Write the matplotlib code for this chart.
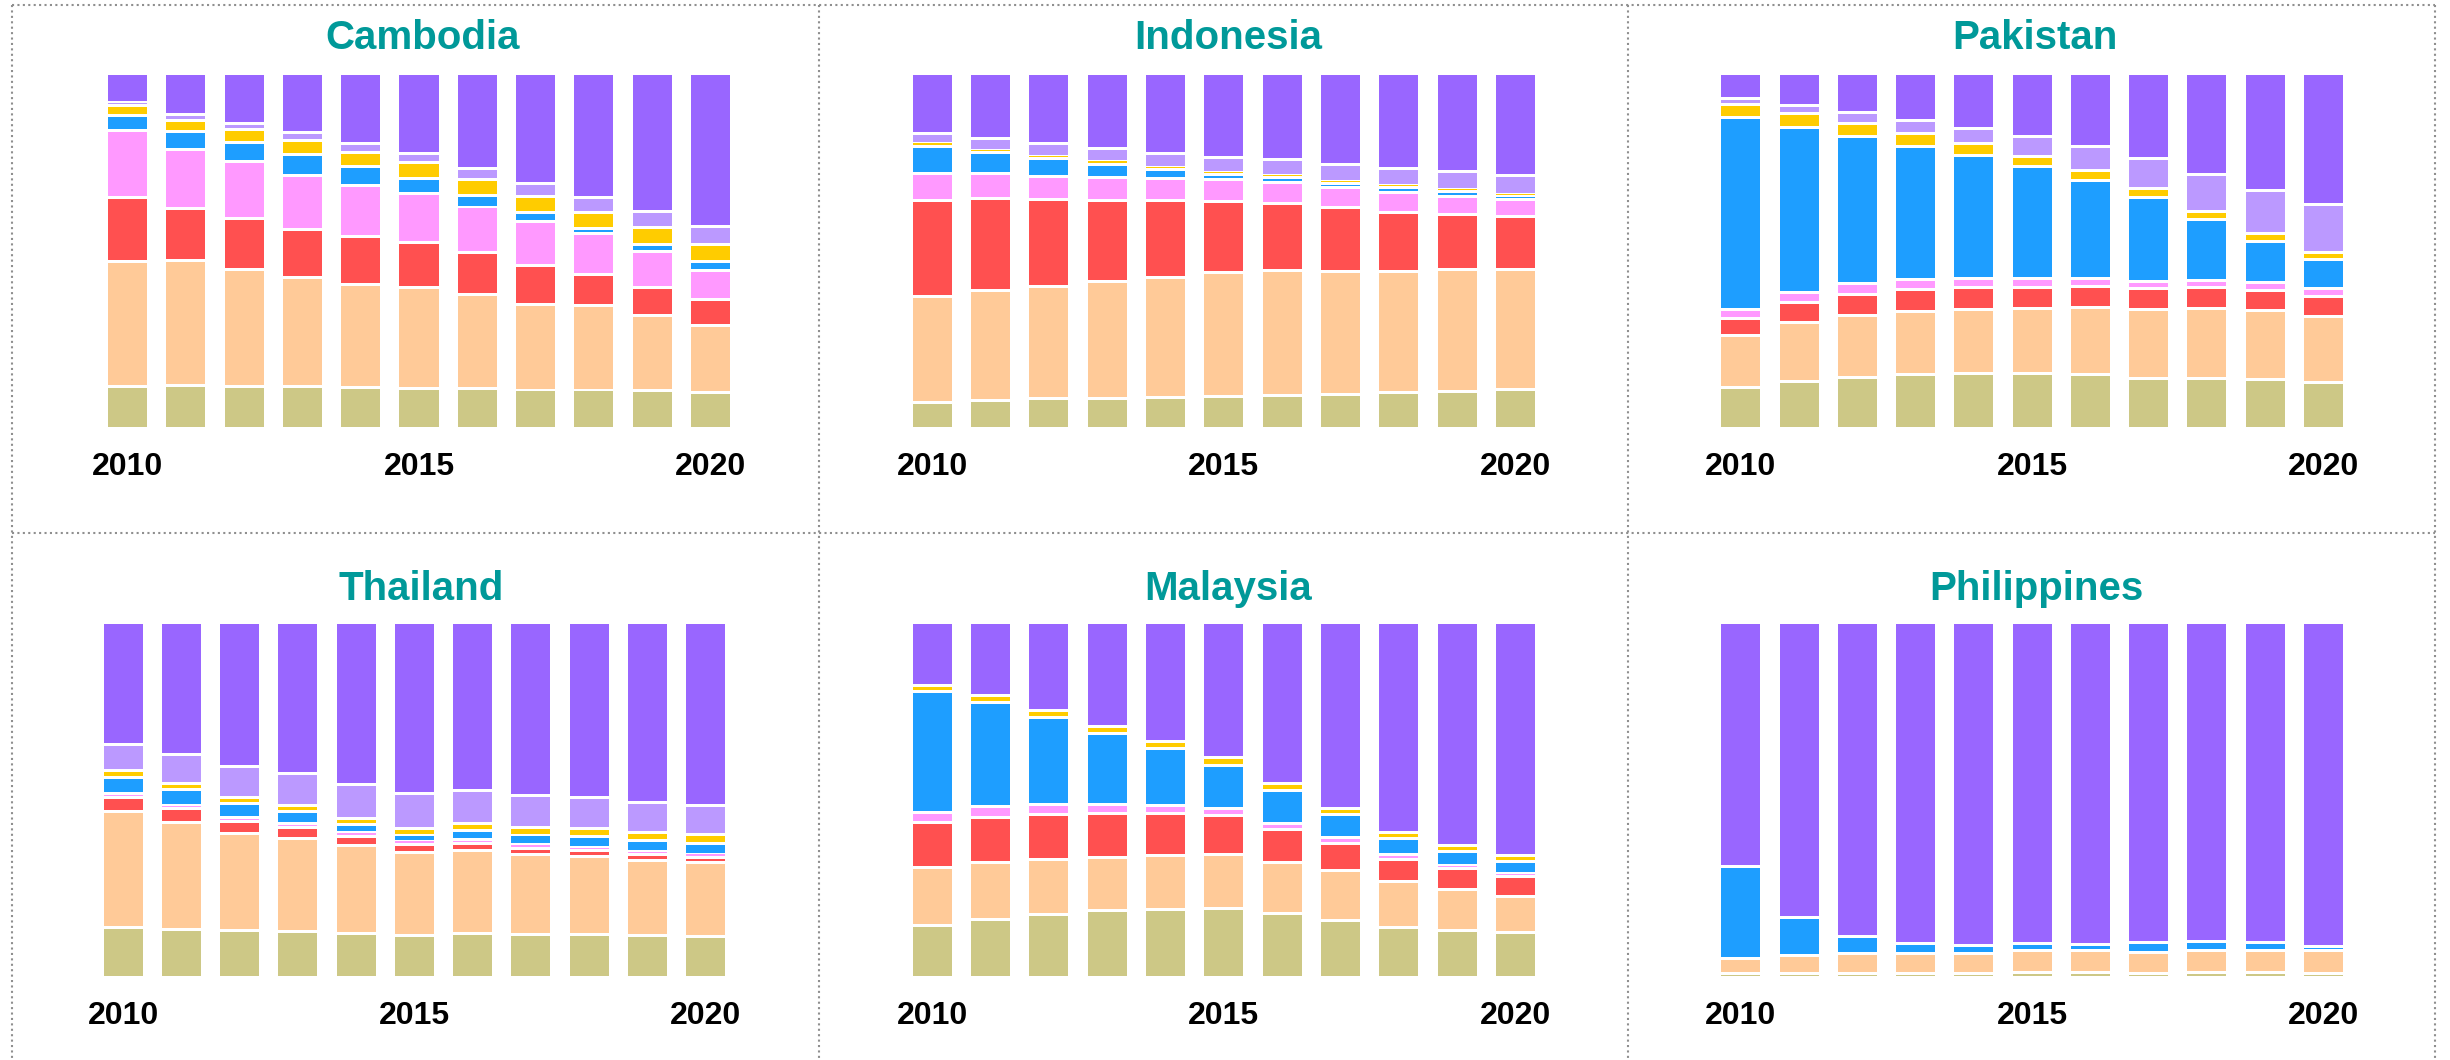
import numpy as np
import matplotlib
matplotlib.use("Agg")
import matplotlib.pyplot as plt
from matplotlib.lines import Line2D

plt.rcParams["font.family"] = ["Liberation Sans", "DejaVu Sans"]

years = list(range(2010, 2021))
tick_years = [2010, 2015, 2020]

# stacked from bottom to top, shares in %
layers = ["olive", "peach", "red", "pink", "blue", "yellow", "lavender", "purple"]
colors = ["#cdc886", "#ffca98", "#ff5050", "#ff99ff", "#1e9eff", "#ffcc00", "#bb99ff", "#9966ff"]

cambodia = [
    [11.5, 11.9, 11.6, 11.4, 11.1, 11.0, 10.8, 10.5, 10.5, 10.3, 9.7],
    [35.5, 35.5, 33.2, 30.9, 29.5, 28.5, 26.8, 24.4, 24.1, 21.5, 19.1],
    [18.3, 14.7, 14.3, 13.8, 13.4, 12.8, 12.1, 10.9, 8.6, 7.8, 7.3],
    [19.0, 16.9, 16.2, 15.3, 14.7, 13.9, 12.8, 12.6, 11.7, 10.2, 8.5],
    [4.4, 5.0, 5.5, 5.9, 5.3, 4.5, 3.4, 2.4, 1.3, 2.1, 2.4],
    [2.6, 3.3, 3.7, 4.0, 4.1, 4.4, 4.5, 4.5, 4.8, 4.7, 4.8],
    [1.0, 1.7, 1.8, 2.2, 2.5, 2.6, 3.1, 3.8, 4.0, 4.6, 5.1],
    [7.8, 11.1, 13.7, 16.4, 19.4, 22.3, 26.5, 30.8, 34.9, 38.9, 43.1],
]

indonesia = [
    [6.9, 7.5, 8.0, 8.1, 8.3, 8.6, 8.8, 9.3, 9.7, 10.2, 10.7],
    [30.1, 31.2, 32.0, 33.1, 34.3, 35.1, 35.5, 34.9, 34.5, 34.5, 34.1],
    [27.4, 26.2, 24.6, 23.0, 21.7, 20.3, 19.0, 18.1, 16.8, 15.6, 15.0],
    [7.6, 7.3, 6.7, 6.5, 6.4, 6.3, 6.1, 5.6, 5.5, 5.1, 5.0],
    [7.8, 5.9, 5.1, 3.9, 2.4, 1.3, 1.3, 1.2, 1.4, 1.3, 0.7],
    [0.6, 0.6, 0.6, 0.7, 0.6, 0.5, 0.6, 0.6, 0.6, 0.6, 0.6],
    [3.0, 3.4, 3.6, 3.8, 4.1, 4.4, 4.6, 4.9, 4.9, 5.1, 5.4],
    [16.6, 18.0, 19.5, 20.8, 22.2, 23.3, 24.0, 25.3, 26.6, 27.5, 28.7],
]

pakistan = [
    [11.2, 12.9, 14.1, 14.8, 15.1, 15.3, 14.8, 13.9, 13.8, 13.4, 12.6],
    [14.7, 16.7, 17.5, 18.0, 18.3, 18.3, 19.2, 19.5, 19.8, 19.7, 18.9],
    [4.9, 5.7, 6.1, 6.2, 6.3, 6.2, 6.0, 5.9, 6.0, 5.8, 5.6],
    [2.5, 2.9, 2.9, 2.8, 2.5, 2.4, 2.3, 2.0, 2.2, 2.2, 2.2],
    [54.6, 46.9, 41.8, 38.0, 34.9, 31.8, 27.7, 23.9, 17.2, 11.6, 8.2],
    [3.6, 3.9, 3.6, 3.5, 3.3, 3.0, 2.9, 2.6, 2.4, 2.2, 2.0],
    [1.7, 2.2, 3.2, 3.8, 4.5, 5.7, 6.8, 8.4, 10.3, 12.2, 13.7],
    [6.7, 8.8, 10.7, 12.9, 15.1, 17.4, 20.3, 23.8, 28.4, 32.9, 36.9],
]

thailand = [
    [13.7, 13.2, 12.8, 12.6, 12.1, 11.6, 12.1, 11.8, 11.7, 11.4, 11.2],
    [32.9, 30.3, 27.6, 26.4, 24.9, 23.5, 23.6, 22.7, 22.2, 21.3, 21.0],
    [4.0, 3.9, 3.5, 3.2, 2.7, 2.3, 2.0, 1.8, 1.7, 1.7, 1.5],
    [1.1, 1.1, 1.1, 1.0, 0.9, 0.8, 1.0, 0.9, 0.9, 0.8, 0.8],
    [4.5, 4.3, 3.9, 3.5, 2.3, 1.8, 2.5, 2.8, 3.0, 3.2, 3.2],
    [2.0, 1.9, 1.8, 1.6, 1.8, 1.9, 2.0, 2.0, 2.3, 2.3, 2.4],
    [7.6, 8.1, 8.8, 9.1, 9.6, 9.8, 9.4, 9.1, 8.7, 8.4, 8.2],
    [34.2, 37.2, 40.5, 42.7, 45.7, 48.3, 47.5, 48.9, 49.5, 50.9, 51.7],
]

malaysia = [
    [14.4, 16.1, 17.5, 18.5, 19.0, 19.1, 17.6, 15.7, 13.7, 12.8, 12.2],
    [16.4, 16.1, 15.5, 15.0, 15.3, 15.5, 14.7, 14.1, 13.1, 11.7, 10.4],
    [12.8, 12.9, 13.0, 12.6, 11.7, 10.8, 9.4, 7.8, 6.3, 6.0, 5.5],
    [2.9, 2.9, 2.6, 2.5, 2.3, 2.2, 1.7, 1.6, 1.3, 1.0, 0.9],
    [34.3, 29.7, 24.8, 20.3, 16.2, 12.2, 9.3, 6.6, 4.5, 3.8, 3.6],
    [1.7, 1.9, 2.0, 2.0, 2.0, 2.1, 2.0, 1.8, 1.8, 1.8, 1.7],
    [0, 0, 0, 0, 0, 0, 0, 0, 0, 0, 0],
    [17.5, 20.4, 24.7, 29.1, 33.5, 38.1, 45.3, 52.3, 59.1, 63.0, 65.7],
]

philippines = [
    [0.8, 0.6, 0.6, 0.6, 0.8, 1.1, 0.9, 0.6, 1.0, 1.0, 0.7],
    [4.3, 5.1, 5.8, 5.7, 5.7, 6.2, 6.4, 6.1, 6.1, 6.2, 6.4],
    [0, 0, 0, 0, 0, 0, 0, 0, 0, 0, 0],
    [0, 0, 0, 0, 0, 0, 0, 0, 0, 0, 0],
    [26.0, 10.9, 4.8, 3.0, 2.3, 1.8, 1.5, 2.7, 2.7, 2.4, 1.3],
    [0, 0, 0, 0, 0, 0, 0, 0, 0, 0, 0],
    [0, 0, 0, 0, 0, 0, 0, 0, 0, 0, 0],
    [68.8, 83.4, 88.9, 90.8, 91.3, 90.9, 91.2, 90.6, 90.2, 90.4, 91.6],
]

countries = ["Cambodia", "Indonesia", "Pakistan", "Thailand", "Malaysia", "Philippines"]
data = [cambodia, indonesia, pakistan, thailand, malaysia, philippines]

W, H = 2450, 1060
fig = plt.figure(figsize=(W / 100, H / 100), dpi=100)
fig.patch.set_facecolor("white")

# pixel layout: centre of first bar, centre of last bar, bar top, bar bottom, title x, title baseline
layout = [
    (127.5, 710.5, 75, 427, 423, 49),
    (932.2, 1515.5, 75, 427, 1228, 49),
    (1740.8, 2323.5, 75, 427, 2035, 49),
    (123.3, 705.5, 623.5, 976, 421, 600),
    (932.2, 1515.5, 623.5, 976, 1228, 600),
    (1740.8, 2323.5, 623.5, 976, 2036, 600),
]

gap = 0.85      # white space between segments, in % units
min_h = 0.35    # tiny segments still show as a thin line

for name, values, (x0, x1, top, bottom, tx, ty) in zip(countries, data, layout):
    step = (x1 - x0) / 10
    left, right = x0 - step / 2, x1 + step / 2
    ax = fig.add_axes([left / W, 1 - bottom / H, (right - left) / W, (bottom - top) / H])

    vals = np.array(values, dtype=float)
    vals = vals / vals.sum(axis=0) * 100
    x = np.arange(len(years))
    base = np.zeros(len(years))
    nlayers = len(layers)
    for k, row in enumerate(vals):
        lo = base + (gap / 2 if k > 0 else 0)
        hi = base + row - (gap / 2 if k < nlayers - 1 else 0)
        h = np.maximum(hi - lo, min_h)
        m = row > 0
        ax.bar(x[m], h[m], bottom=lo[m], width=0.67, color=colors[k], linewidth=0)
        base += row

    ax.set_xlim(-0.5, 10.5)
    ax.set_ylim(0, 100)
    ax.set_xticks([years.index(y) for y in tick_years], [str(y) for y in tick_years],
                  fontsize=23, fontweight="bold")
    ax.tick_params(axis="x", length=0, pad=18)
    ax.set_yticks([])
    for s in ax.spines.values():
        s.set_visible(False)

    fig.text(tx / W, 1 - ty / H, name, ha="center", va="baseline",
             fontsize=29, fontweight="bold", color="#009999")


# dotted panel borders
def dotted(xa, ya, xb, yb):
    fig.add_artist(Line2D([xa / W, xb / W], [1 - ya / H, 1 - yb / H], transform=fig.transFigure,
                          color="#8f8f8f", linewidth=1.5, linestyle=(0, (1, 1.6))))


dotted(11.5, 4.7, 2435, 4.7)
dotted(11.5, 533, 2435, 533)
for xv in [11.7, 819, 1628, 2435]:
    dotted(xv, 4.7, xv, 1060)

fig.savefig("out.png", dpi=100, facecolor="white")
